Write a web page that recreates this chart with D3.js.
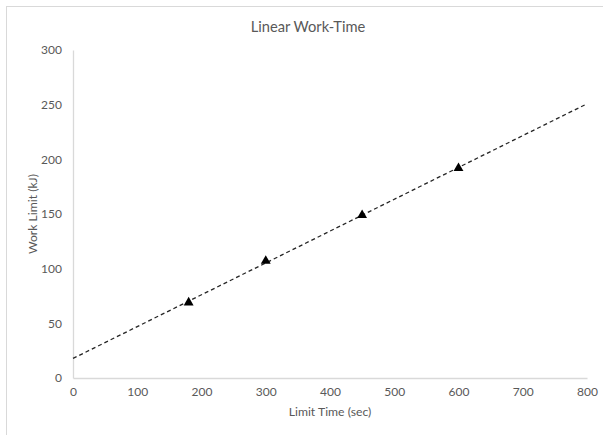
<!DOCTYPE html>
<html>
<head>
<meta charset="utf-8">
<script src="https://cdn.jsdelivr.net/npm/d3@7"></script>
<style>
  html, body { margin: 0; padding: 0; background: #fff; }
  svg { display: block; font-family: Lato, "Open Sans", sans-serif; }
</style>
</head>
<body>
<svg id="chart" width="603" height="435"></svg>
<script>
// Measured limit times (sec) and work limits (kJ)
const limitTime = [180, 300, 450, 600];
const workLimit = [69, 107, 149, 192];

// Axis ticks
const xTicks = [0, 100, 200, 300, 400, 500, 600, 700, 800];
const yTicks = [0, 50, 100, 150, 200, 250, 300];

const svg = d3.select("#chart");

// Chart frame
svg.append("rect")
  .attr("x", 6.5).attr("y", 6.5)
  .attr("width", 620).attr("height", 450)
  .attr("fill", "#fff").attr("stroke", "#d9d9d9");

const x = d3.scaleLinear().domain([0, 800]).range([73, 587]);
const y = d3.scaleLinear().domain([0, 300]).range([378, 50]);

const textColor = "#595959";

// Axes
const xAxis = svg.append("g")
  .attr("transform", `translate(0,${y(0)})`)
  .call(d3.axisBottom(x).tickValues(xTicks).tickSize(0).tickPadding(9));
const yAxis = svg.append("g")
  .attr("transform", `translate(${x(0)},0)`)
  .call(d3.axisLeft(y).tickValues(yTicks).tickSize(0).tickPadding(11));

[xAxis, yAxis].forEach(g => {
  g.select(".domain").attr("stroke", "#d9d9d9").attr("stroke-width", 1.3);
  g.selectAll("text").attr("fill", textColor).attr("font-size", 12)
    .attr("font-family", "Lato, 'Open Sans', sans-serif");
});

// Linear trend line (least squares fit of the measurements)
const mx = d3.mean(limitTime), my = d3.mean(workLimit);
const slope = d3.sum(limitTime, (t, i) => (t - mx) * (workLimit[i] - my)) /
              d3.sum(limitTime, t => (t - mx) ** 2);
const intercept = my - slope * mx;
const trend = [0, 800].map(t => [t, intercept + slope * t]);

svg.append("path")
  .datum(trend)
  .attr("d", d3.line().x(d => x(d[0])).y(d => y(d[1])))
  .attr("fill", "none")
  .attr("stroke", "#262626")
  .attr("stroke-width", 1.3)
  .attr("stroke-dasharray", "4,3");

// Data markers
svg.append("g").selectAll("path")
  .data(limitTime.map((t, i) => [t, workLimit[i]]))
  .join("path")
  .attr("transform", d => `translate(${x(d[0])},${y(d[1])})`)
  .attr("d", d3.symbol(d3.symbolTriangle, 42))
  .attr("fill", "#000");

// Titles
svg.append("text")
  .attr("x", 308).attr("y", 32)
  .attr("text-anchor", "middle")
  .attr("fill", textColor).attr("font-size", 14.7)
  .text("Linear Work-Time");

svg.append("text")
  .attr("x", 330).attr("y", 416)
  .attr("text-anchor", "middle")
  .attr("fill", textColor).attr("font-size", 12.2)
  .text("Limit Time (sec)");

svg.append("text")
  .attr("transform", "translate(37,214) rotate(-90)")
  .attr("text-anchor", "middle")
  .attr("fill", textColor).attr("font-size", 12.2)
  .text("Work Limit (kJ)");
</script>
</body>
</html>
